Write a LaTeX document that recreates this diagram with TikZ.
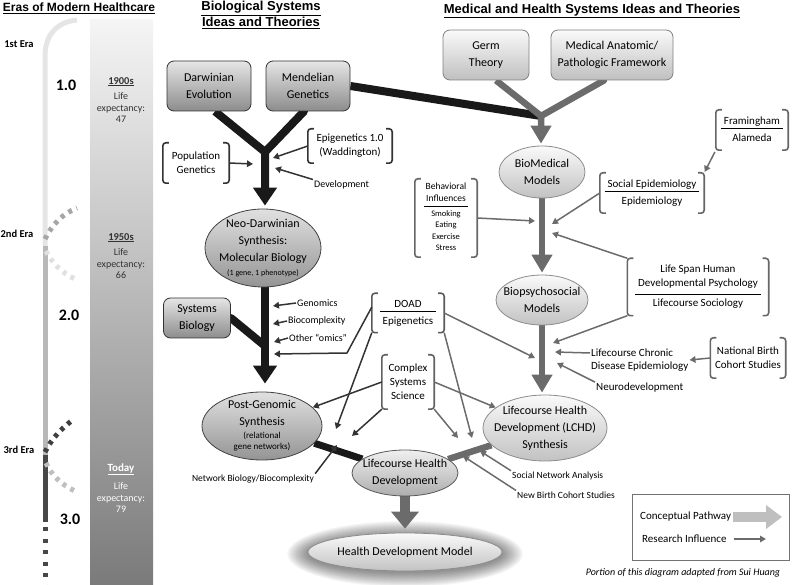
\documentclass[tikz,border=0pt]{standalone}
\usepackage{fontspec}
\setmainfont{Carlito}
\newfontfamily\headfont{Liberation Sans}
\usetikzlibrary{arrows.meta,shapes.geometric,backgrounds}

\setlength{\arrayrulewidth}{0.7pt}
\newcommand{\fsz}[2]{\fontsize{#1}{#2}\selectfont}
% a pair of square brackets round a node
\newcommand{\brackets}[2][black!80]{%
  \draw[#1, line width=1.6pt, rounded corners=3pt]
    ([xshift=6pt]#2.north west) -- (#2.north west) -- (#2.south west) -- ([xshift=6pt]#2.south west)
    ([xshift=-6pt]#2.north east) -- (#2.north east) -- (#2.south east) -- ([xshift=-6pt]#2.south east);}
% two blocks of text with a rule between them
\newcommand{\splitlines}[3][0pt]{\begin{tabular}{@{\hspace{3pt}}c@{\hspace{3pt}}}#2\\[#1]\hline\rule{0pt}{12.5pt}#3\end{tabular}}
\newcommand{\sm}{\fsz{8.5}{11}}

\tikzset{
  heading/.style={font=\headfont\bfseries\fsz{13}{16}, align=center, inner sep=1pt},
  erafont/.style={font=\bfseries\fsz{10.5}{12}, inner sep=1pt},
  eranum/.style={font=\bfseries\fsz{16}{18}, inner sep=1pt},
  bartxt/.style={font=\fsz{10}{11.5}, align=center, text=black!80, inner sep=1pt},
  darkbox/.style={draw=black!80, line width=0.8pt, rounded corners=7pt, top color=black!10, bottom color=black!45, align=center, font=\fsz{12}{17}},
  lightbox/.style={draw=black!50, line width=0.8pt, rounded corners=7pt, top color=black!2, bottom color=black!25, align=center, font=\fsz{12}{17}},
  darkell/.style={ellipse, draw=black!75, line width=0.8pt, top color=black!12, bottom color=black!42, align=center, font=\fsz{12}{17}, inner sep=-12pt},
  midell/.style={darkell, draw=black!65, top color=black!6, bottom color=black!32},
  lightell/.style={darkell, draw=black!45, top color=black!2, bottom color=black!24},
  brk/.style={align=center, font=\fsz{11}{14}, inner sep=2pt},
  txt/.style={font=\fsz{10}{12}, align=center, inner sep=1pt},
  cpath/.style={line width=8pt, black!90},
  mpath/.style={line width=6.5pt, black!58},
  bigtip/.style={-{Triangle[length=18pt,width=23pt]}},
  medtip/.style={-{Triangle[length=18pt,width=20pt]}},
  infl/.style={line width=1.5pt, black!80, -{Triangle[length=6pt,width=6.5pt]}},
  minfl/.style={infl, black!58},
}

\begin{document}
\begin{tikzpicture}[x=1pt,y=-1pt]
  \useasboundingbox (0,0) rectangle (793,585);

  % headings
  \node[heading, font=\headfont\bfseries\fsz{12}{16}] (erahead) at (79,8) {\underline{Eras of Modern Healthcare}};
  \node[heading] (biohead) at (261,15) {\underline{Biological Systems}\\\underline{Ideas and Theories}};
  \node[heading] (medhead) at (592,11) {\underline{Medical and Health Systems Ideas and Theories}};

  % eras of healthcare
  \shade[top color=black!4, bottom color=black!52] (90,20) rectangle (153,585);
  \draw[line width=5pt, black!10] (77,20) .. controls (56,22) and (45,36) .. (45,56) -- (45,246);
  \draw[line width=5pt, black!28] (45,246) -- (45,455);
  \draw[line width=5pt, black!72] (45,455) -- (45,522);
  \draw[line width=5pt, black!72, dash pattern=on 4pt off 7.5pt] (45,527) -- (45,585);
  \draw[line width=5pt, black!35, dash pattern=on 4pt off 5pt] (45,239) .. controls (52,225) and (62,214) .. (77,208);
  \draw[line width=5pt, black!12, dash pattern=on 4pt off 5pt] (46,251) .. controls (52,263) and (62,273) .. (75,279);
  \draw[line width=5pt, black!75, dash pattern=on 4pt off 5pt] (45,452) .. controls (52,438) and (62,428) .. (74,419);
  \draw[line width=5pt, black!25, dash pattern=on 4pt off 5pt] (46,463) .. controls (52,476) and (62,485) .. (75,491);

  \node[erafont] (era1) at (19,44) {1st Era};
  \node[erafont] (era2) at (17,234) {2nd Era};
  \node[erafont] (era3) at (19,450) {3rd Era};
  \node[eranum] (num1) at (66,85) {1.0};
  \node[eranum] (num2) at (69,315) {2.0};
  \node[eranum] (num3) at (70,519) {3.0};
  \node[bartxt] (yr1) at (121,100) {{\fsz{10.5}{12}\textbf{\underline{1900s}}}\\[4pt]Life\\expectancy:\\47};
  \node[bartxt] (yr2) at (121,256) {{\fsz{10.5}{12}\textbf{\underline{1950s}}}\\[4pt]Life\\expectancy:\\66};
  \node[bartxt, text=white] (yr3) at (121,488) {{\fsz{11}{12}\textbf{\underline{Today}}}\\[7pt]Life\\expectancy:\\79};

  % biological systems
  \node[darkbox, minimum width=84pt, minimum height=50pt] (darwin) at (209,86) {Darwinian\\Evolution};
  \node[darkbox, minimum width=84pt, minimum height=50pt] (mendel) at (308,86) {Mendelian\\Genetics};
  \node[brk, minimum width=66pt, minimum height=40pt] (popgen) at (196,163) {Population\\Genetics};
  \node[brk, minimum width=84pt, minimum height=34pt] (epi) at (350,146) {Epigenetics 1.0\\(Waddington)};
  \node[txt, anchor=west] (devel) at (313,185) {Development};
  \node[darkell, minimum width=116pt, minimum height=78pt] (neo) at (263,248) {Neo-Darwinian\\Synthesis:\\Molecular Biology\\[-3pt]{\fsz{8}{10}(1 gene, 1 phenotype)}};
  \node[darkbox, minimum width=67pt, minimum height=40pt] (sysbio) at (197,318) {Systems\\Biology};
  \node[txt, anchor=west] (genom) at (296,303) {Genomics};
  \node[txt, anchor=west] (biocx) at (287,321) {Biocomplexity};
  \node[txt, anchor=west] (omics) at (288,338) {Other ``omics''};
  \node[brk, minimum width=72pt, minimum height=39pt] (doad) at (408,313) {\splitlines{DOAD}{Epigenetics}};
  \node[brk, minimum width=52pt, minimum height=54pt] (css) at (408,382) {Complex\\Systems\\Science};
  \node[darkell, minimum width=120pt, minimum height=68pt] (postgen) at (262,426) {Post-Genomic\\Synthesis\\[-4pt]{\fsz{9}{11}(relational}\\[-6pt]{\fsz{9}{11}gene networks)}};
  \node[txt, font=\fsz{9.5}{11}] (netbio) at (253,479) {Network Biology/Biocomplexity};
  \node[midell, minimum width=106pt, minimum height=46pt] (lhd) at (405,473) {Lifecourse Health\\Development};
  \node[lightell, minimum width=194pt, minimum height=38pt] (hdm) at (405,552) {Health Development Model};

  % medical and health systems
  \node[lightbox, minimum width=86pt, minimum height=50pt] (germ) at (486,55) {Germ\\Theory};
  \node[lightbox, minimum width=122pt, minimum height=50pt] (anat) at (612,55) {Medical Anatomic/\\Pathologic Framework};
  \node[lightell, minimum width=86pt, minimum height=52pt] (biomed) at (542,172) {BioMedical\\Models};
  \node[lightell, minimum width=92pt, minimum height=50pt] (biopsy) at (542,300) {Biopsychosocial\\Models};
  \node[lightell, minimum width=124pt, minimum height=66pt] (lchd) at (545,428) {Lifecourse Health\\Development (LCHD)\\Synthesis};
  \node[brk, minimum width=72pt, minimum height=40pt] (fram) at (752,130) {\splitlines{Framingham}{Alameda}};
  \node[brk, minimum width=104pt, minimum height=40pt] (socepi) at (652,193) {\splitlines{Social Epidemiology}{Epidemiology}};
  \node[brk, font=\fsz{9.5}{11.5}, minimum width=62pt, minimum height=78pt] (behav) at (446,218) {\begin{tabular}{@{\hspace{2pt}}c@{\hspace{2pt}}}Behavioral\\Influences\\[1pt]\hline\rule{0pt}{10pt}\sm Smoking\\\sm Eating\\\sm Exercise\\\sm Stress\end{tabular}};
  \node[brk, minimum width=141pt, minimum height=57pt] (lifespan) at (698,287) {\splitlines[3pt]{Life Span Human\\Developmental Psychology}{Lifecourse Sociology}};
  \node[txt, font=\fsz{11}{13}, align=left, anchor=west] (lcde) at (590,360) {Lifecourse Chronic\\Disease Epidemiology};
  \node[brk, minimum width=75pt, minimum height=40pt] (nbcs) at (748,358) {National Birth\\Cohort Studies};
  \node[txt, font=\fsz{11}{13}, anchor=west] (neuro) at (595,388) {Neurodevelopment};
  \node[txt, font=\fsz{9.5}{11}, anchor=west] (sna) at (511,476) {Social Network Analysis};
  \node[txt, font=\fsz{9.5}{11}, anchor=west] (nbirth) at (516,495) {New Birth Cohort Studies};

  \brackets{popgen}
  \brackets{epi}
  \brackets[black!65]{doad}
  \brackets[black!62]{css}
  \brackets[black!60]{fram}
  \brackets[black!60]{socepi}
  \brackets[black!60]{behav}
  \brackets[black!60]{lifespan}
  \brackets[black!60]{nbcs}

  % legend
  \node[draw=black!55, line width=0.8pt, minimum width=157pt, minimum height=66pt] (legend) at (711,527) {};
  \node[txt, font=\fsz{11}{13}, anchor=west] (lgcon) at (639,517) {Conceptual Pathway};
  \node[txt, font=\fsz{11}{13}, anchor=west] (lgres) at (641,539) {Research Influence};
  \node[txt, font=\itshape\fsz{10}{12}] (credit) at (683,573) {Portion of this diagram adapted from Sui Huang};
  \coordinate (lgc) at (782,517);
  \coordinate (lgr) at (766,539);
  \draw[line width=10pt, black!25, -{Triangle[length=16pt,width=23pt]}] ([xshift=1pt]lgcon.east) -- (lgc);
  \draw[minfl] ([xshift=6pt]lgres.east) -- (lgr);

  % conceptual pathways
  \coordinate (bj) at (265,152);
  \coordinate (sj) at (265,346);
  \coordinate (mj) at (541,116);
  \begin{scope}[on background layer]
    \foreach \i [evaluate=\i as \rx using 96+1.1*\i, evaluate=\i as \ry using 18+0.75*\i] in {1,...,20}
      \fill[black, opacity=0.028] ([yshift=-2pt]hdm.center) ellipse [x radius=\rx, y radius=\ry];
    \draw[cpath] (mendel.east) -- (mj);
    \draw[cpath, bigtip, shorten >=3pt] ([xshift=6pt]darwin.south) -- (bj) -- (bj |- neo.north);
    \draw[cpath, line cap=round] ([xshift=-4pt]mendel.south) -- (bj);
    \draw[cpath, bigtip, shorten >=8pt] (neo.south -| bj) -- (bj |- postgen.north);
    \draw[cpath, line cap=round] (sysbio.east) -- (sj);
    \draw[cpath, line width=7pt] (postgen) -- (lhd);
    \draw[mpath, medtip, shorten >=2pt] ([xshift=10pt]germ.south) -- (mj) -- (mj |- biomed.north);
    \draw[mpath, line cap=round] ([xshift=-8pt]anat.south) -- (mj);
    \draw[mpath, medtip, shorten >=2pt] (biomed.south) -- (biomed.south |- biopsy.north);
    \draw[mpath, medtip, shorten >=2pt] (biopsy.south) -- (biopsy.south |- lchd.north);
    \draw[mpath] (lhd) -- (lchd);
    \draw[mpath, line width=10pt, -{Triangle[length=17pt,width=27pt]}, shorten >=4pt] (lhd.south) -- (lhd.south |- hdm.north);
  \end{scope}

  % research influences, biological side
  \coordinate (pg) at (253,164);
  \coordinate (ep) at (273,158);
  \coordinate (dv) at (275,168);
  \coordinate (gn) at (273,306);
  \coordinate (bx) at (273,324);
  \coordinate (om) at (274,342);
  \coordinate (dbend) at (347,353);
  \coordinate (dd) at (274,354);
  \coordinate (p1) at (336,429);
  \coordinate (nb) at (337,445);
  \coordinate (c1) at (352,436);
  \draw[infl] (popgen.east) -- (pg);
  \draw[infl] (epi.west) -- (ep);
  \draw[infl] (devel.north west) -- (dv);
  \draw[infl] (genom.west) -- (gn);
  \draw[infl] (biocx.west) -- (bx);
  \draw[infl] (omics.west) -- (om);
  \draw[infl] ([yshift=6pt]doad.west) -- (dbend) -- (dd);
  \draw[infl] (doad.south west) -- (p1);
  \draw[infl] (netbio.north east) -- (nb);
  \draw[infl] (css.west) -- (postgen);
  \draw[infl] (css.south west) -- (c1);

  % research influences, medical side
  \coordinate (c2) at (458,438);
  \coordinate (d1) at (535,358);
  \coordinate (d2) at (472,438);
  \coordinate (s1) at (480,451);
  \coordinate (s2) at (463,456);
  \coordinate (b1) at (535,221);
  \coordinate (b2) at (552,224);
  \coordinate (b3) at (552,233);
  \coordinate (b4) at (553,343);
  \coordinate (b5) at (555,352);
  \coordinate (b6) at (557,363);
  \draw[minfl] (css.east) -- (lchd);
  \draw[minfl] (css.south east) -- (c2);
  \draw[minfl] (doad.east) -- (d1);
  \draw[minfl] (doad.south east) -- (d2);
  \draw[minfl] (sna.north west) -- (s1);
  \draw[minfl] (nbirth.north west) -- (s2);
  \draw[minfl] (behav.east) -- (b1);
  \draw[minfl] (socepi.west) -- (b2);
  \draw[minfl, shorten <=2pt, shorten >=1pt] (fram.south west) -- (socepi.north east);
  \draw[minfl] (lifespan.north west) -- (b3);
  \draw[minfl] (lifespan.south west) -- (b4);
  \draw[minfl] ([yshift=7pt]lcde.west) -- (b5);
  \draw[minfl] (nbcs.west) -- (lcde.east);
  \draw[minfl] (neuro.north west) -- (b6);
\end{tikzpicture}
\end{document}
